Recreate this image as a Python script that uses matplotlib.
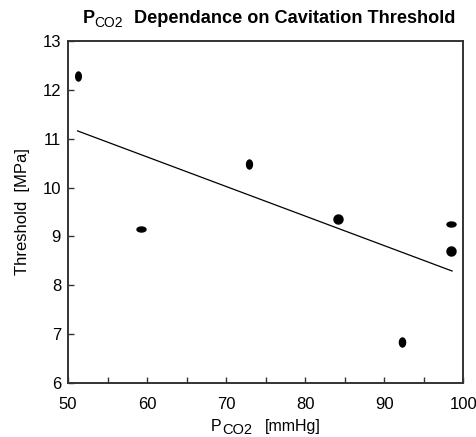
import numpy as np
import matplotlib
matplotlib.use("Agg")
import matplotlib.pyplot as plt
from matplotlib.path import Path

# Data
pco2 = [51.2, 59.2, 72.9, 84.2, 92.2, 98.4, 98.4]
threshold = [12.28, 9.15, 10.49, 9.35, 6.84, 9.26, 8.69]

# Regression line (end points)
fit_x = [51.2, 98.6]
fit_y = [11.16, 8.29]

x_ticks = [50, 60, 70, 80, 90, 100]
y_ticks = [6, 7, 8, 9, 10, 11, 12, 13]

# the dots in the original are slightly squashed ellipses (width/height)
dot_aspect = [0.62, 1.8, 0.65, 1.0, 0.68, 1.8, 1.0]


def ellipse_marker(aspect):
    t = np.linspace(0, 2 * np.pi, 40)
    if aspect >= 1:
        rx, ry = 1.0, 1.0 / aspect
    else:
        rx, ry = aspect, 1.0
    verts = np.column_stack([rx * np.cos(t), ry * np.sin(t)])
    return Path(verts, closed=True)


plt.rcParams['font.family'] = ['Liberation Sans', 'DejaVu Sans']

fig = plt.figure(figsize=(4.76, 4.37), dpi=100)
ax = fig.add_axes([0.143, 0.124, 0.830, 0.782])

for xv, yv, asp in zip(pco2, threshold, dot_aspect):
    ax.plot(xv, yv, marker=ellipse_marker(asp), color='black',
            markersize=6.5, linestyle='none')
ax.plot(fit_x, fit_y, color='black', linewidth=0.9)

ax.set_xlim(50, 100)
ax.set_ylim(6, 13)
ax.set_xticks(x_ticks)
ax.set_xticks(np.arange(55, 100, 10), minor=True)
ax.set_yticks(y_ticks)

for s in ax.spines.values():
    s.set_color('#333333')
    s.set_linewidth(1.4)

ax.tick_params(axis='both', which='both', direction='in', length=4,
               width=1.0, color='#333333', labelsize=12,
               top=False, right=False)
ax.tick_params(axis='x', pad=10)
ax.tick_params(axis='y', pad=5)

# x label: P with a near full-size CO2 subscript
fig.text(0.466, 0.014, 'P', fontsize=11.5, ha='right', va='baseline')
fig.text(0.466, 0.007, 'CO2', fontsize=10.5, ha='left', va='baseline')
fig.text(0.556, 0.014, '[mmHg]', fontsize=11.5, ha='left', va='baseline')

ax.set_ylabel('Threshold  [MPa]', fontsize=12, labelpad=9)

# title, built the same way
fig.text(0.173, 0.948, 'P', fontsize=13, fontweight='bold', ha='left', va='baseline')
fig.text(0.199, 0.939, 'CO2', fontsize=10, ha='left', va='baseline')
fig.text(0.281, 0.948, 'Dependance on Cavitation Threshold', fontsize=13.1,
         fontweight='bold', ha='left', va='baseline')

fig.savefig("out.png", dpi=100)
